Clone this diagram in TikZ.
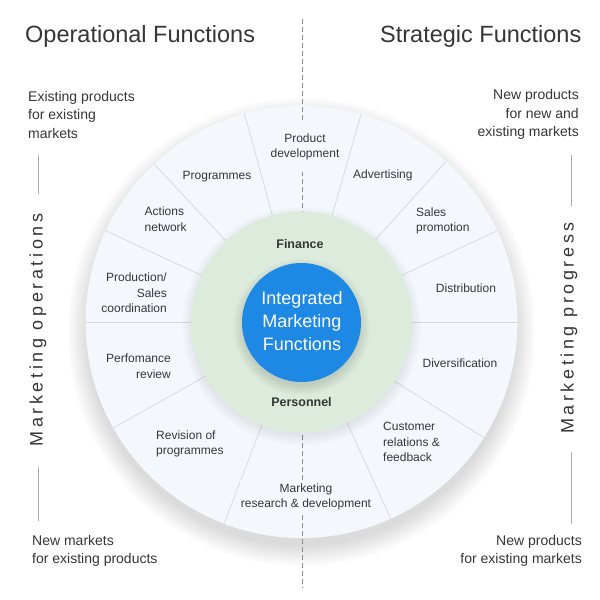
\documentclass[tikz,border=0pt]{standalone}
\usepackage{fontspec}
\setmainfont{Liberation Sans}
\usetikzlibrary{calc}
\definecolor{ringfill}{HTML}{F4F8FD}
\definecolor{sepline}{HTML}{D3D8DE}
\definecolor{greenfill}{HTML}{DDEBDD}
\definecolor{bluefill}{HTML}{1E88E5}
\definecolor{txt}{HTML}{363636}
\definecolor{dashcol}{HTML}{8A8A8A}
\definecolor{sidecol}{HTML}{ABABAB}
\tikzset{
  ringlbl/.style={font=\fontsize{12}{15.5}\selectfont, text=txt, inner sep=1pt},
  sidetxt/.style={font=\fontsize{14}{18.5}\selectfont, text=txt, inner sep=0pt},
  ttl/.style={font=\fontsize{23.5}{28}\selectfont, text=txt, inner sep=0pt},
  vert/.style={font=\fontsize{18}{22}\selectfont\addfontfeature{LetterSpace=20}, text=txt, rotate=90, inner sep=0pt},
  sepl/.style={draw=sepline, line width=0.7pt},
  dashline/.style={draw=dashcol, line width=0.8pt, dash pattern=on 5pt off 3pt},
  sidel/.style={draw=sidecol, line width=0.8pt},
  inner/.style={font=\fontsize{12.5}{15}\selectfont\bfseries, text=txt, inner sep=0pt}
}
\begin{document}
\begin{tikzpicture}[x=1pt,y=-1pt]
\useasboundingbox (0,0) rectangle (600,600);
\fill[white] (0,0) rectangle (600,600);
\coordinate (C) at (301.5,322);
% outer shadow
\foreach \i in {0,...,17}
  \fill[black,opacity=0.009] (301.5,332) circle[radius=214pt+\i*1.2pt];
% ring
\fill[ringfill] (C) circle[radius=216pt];
\foreach \a in {0,25,48,74,105.3,133,155,180,209.4,249,294.4,327.6}
  \draw[sepl] ($(C)+(-\a:110)$) -- ($(C)+(-\a:216)$);
% dashed divider
\coordinate (dtop) at (302,19);
\coordinate (dbot) at (302,588);
\draw[dashline] (dtop) -- (dbot);
% ring labels
\node[ringlbl, align=center, fill=ringfill, inner ysep=12pt] (prod) at (305,147) {Product\\development};
\node[ringlbl, anchor=west] (adv) at (352,175) {Advertising};
\node[ringlbl, anchor=west, align=left] (sales) at (415,221) {Sales\\promotion};
\node[ringlbl] (dist) at (466,288) {Distribution};
\node[ringlbl] (div) at (460,363) {Diversification};
\node[ringlbl, anchor=west, align=left] (cust) at (382,442) {Customer\\relations \&\\feedback};
\node[ringlbl, align=center, fill=ringfill, inner ysep=4pt] (mkt) at (306,497) {Marketing\\research \& development};
\node[ringlbl, anchor=west, align=left] (rev) at (155,444) {Revision of\\programmes};
\node[ringlbl, anchor=east, align=right] (perf) at (172,366) {Perfomance\\review};
\node[ringlbl, anchor=east, align=right] (pcoord) at (168,293) {Production/\\Sales\\coordination};
\node[ringlbl, anchor=west, align=left] (act) at (143.5,219) {Actions\\network};
\node[ringlbl] (progr) at (217,177) {Programmes};
% green circle with shadow
\foreach \i in {0,...,9}
  \fill[black,opacity=0.007] (301.5,326) circle[radius=109pt+\i*1.2pt];
\node[circle, fill=greenfill, minimum size=221pt, inner sep=0pt] (green) at (C) {};
\node[inner] (fin) at (300,244) {Finance};
\node[inner] (pers) at (301.5,402) {Personnel};
% blue circle with shadow
\foreach \i in {0,...,9}
  \fill[black,opacity=0.012] (301.5,327) circle[radius=58.5pt+\i*1.1pt];
\node[circle, fill=bluefill, minimum size=119pt, inner sep=0pt] (blue) at (301.5,322.5) {};
\node[align=center, text=white, font=\fontsize{18}{23}\selectfont, inner sep=0pt] (imf) at (302,321.5) {Integrated\\Marketing\\Functions};
% titles
\node[ttl, anchor=base west] (op) at (25,42) {Operational Functions};
\node[ttl, anchor=base east] (st) at (581.5,42) {Strategic Functions};
% corner texts
\node[sidetxt, anchor=west, align=left] (tl) at (28,114.7) {Existing products\\for existing\\markets};
\node[sidetxt, anchor=east, align=right] (tr) at (579,114.7) {New products\\for new and\hspace*{4pt}\\existing markets};
\node[sidetxt, anchor=west, align=left] (bl) at (32,551) {New markets\\for existing products};
\node[sidetxt, anchor=east, align=right] (br) at (582,551) {New products\\for existing markets};
% vertical texts
\node[vert] (mop) at (38,330) {Marketing operations};
\node[vert] (mpr) at (569,328) {Marketing progress};
\coordinate (l1a) at (38,155); \coordinate (l1b) at (38,194);
\coordinate (l2a) at (38,467); \coordinate (l2b) at (38,521);
\coordinate (r1a) at (571.5,155); \coordinate (r1b) at (571.5,206);
\coordinate (r2a) at (571.5,452); \coordinate (r2b) at (571.5,524);
\draw[sidel] (l1a) -- (l1b);
\draw[sidel] (l2a) -- (l2b);
\draw[sidel] (r1a) -- (r1b);
\draw[sidel] (r2a) -- (r2b);
\end{tikzpicture}
\end{document}
